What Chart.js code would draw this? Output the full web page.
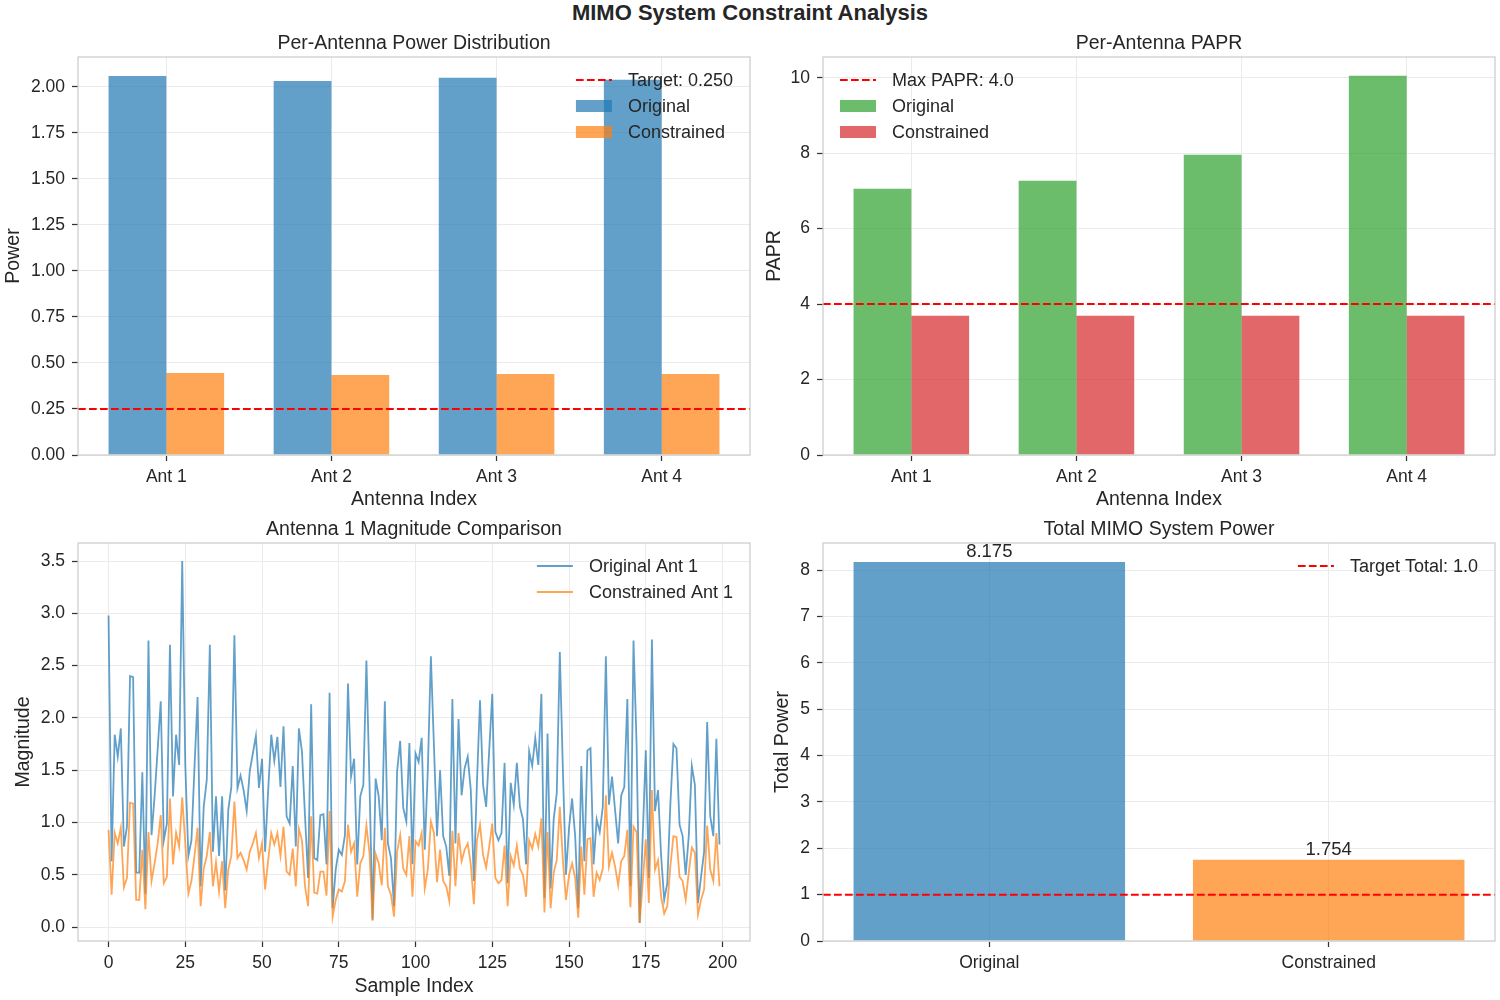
<!DOCTYPE html>
<html>
<head>
<meta charset="utf-8">
<script src="https://cdn.jsdelivr.net/npm/chart.js@4.4.1/dist/chart.umd.min.js"></script>
<style>
  body { margin: 0; background: #fff; width: 1500px; height: 1000px; position: relative; overflow: hidden; }
  #suptitle { position: absolute; left: 0; top: 0; width: 1500px; text-align: center;
    font: bold 22px "Liberation Sans", Arial, sans-serif; line-height: 26px; color: #262626; }
  canvas { position: absolute; }
</style>
</head>
<body>
<div id="suptitle">MIMO System Constraint Analysis</div>
<canvas id="powerChart" width="760" height="495" style="left:0px;top:25px;width:760px;height:495px"></canvas>
<canvas id="paprChart" width="755" height="495" style="left:745px;top:25px;width:755px;height:495px"></canvas>
<canvas id="magChart" width="760" height="489" style="left:0px;top:511px;width:760px;height:489px"></canvas>
<canvas id="totalChart" width="755" height="489" style="left:745px;top:511px;width:755px;height:489px"></canvas>
<script>
// ---- data ----
const antennas = ['Ant 1', 'Ant 2', 'Ant 3', 'Ant 4'];
const powerOriginal = [2.06, 2.033, 2.05, 2.04];
const powerConstrained = [0.446, 0.435, 0.44, 0.44];
const powerTarget = 0.25;
const powerTicks = [0, 0.25, 0.5, 0.75, 1.0, 1.25, 1.5, 1.75, 2.0];

const paprOriginal = [7.06, 7.27, 7.96, 10.05];
const paprConstrained = [3.69, 3.69, 3.69, 3.69];
const paprMax = 4.0;
const paprTicks = [0, 2, 4, 6, 8, 10];

const origAnt1 = [
  2.98,0.63,1.84,1.63,1.90,0.77,0.96,2.40,2.39,0.52,
  0.52,1.48,0.32,2.74,0.88,1.25,1.70,2.16,0.83,0.99,
  2.70,1.25,1.84,1.55,3.50,1.55,0.68,0.83,1.53,2.20,
  0.39,1.15,1.41,2.70,0.72,1.25,0.68,1.25,0.35,1.12,
  1.34,2.79,1.33,1.45,1.31,1.11,1.49,1.66,1.83,1.33,
  1.61,0.72,1.31,1.84,1.59,1.82,1.34,1.92,1.06,0.99,
  1.54,0.77,1.90,1.68,1.06,0.47,2.13,0.66,0.64,1.07,
  1.08,0.60,2.24,0.18,0.55,0.74,0.69,0.88,2.33,1.44,
  1.61,0.60,1.25,1.36,2.55,1.38,0.07,1.42,1.25,0.83,
  2.16,0.80,0.66,0.20,1.49,1.78,1.14,1.01,1.76,0.60,
  1.66,1.58,1.81,0.74,1.50,2.59,1.73,0.87,1.50,0.87,
  0.77,0.49,2.18,0.80,1.99,1.26,1.52,1.63,1.31,0.44,
  1.38,2.17,1.36,1.15,1.69,2.23,0.91,0.83,0.90,1.57,
  0.42,1.38,1.17,1.57,1.15,1.03,0.60,1.68,1.54,1.81,
  1.55,2.23,0.28,1.85,0.37,1.03,1.28,2.63,1.50,0.50,
  0.95,1.23,0.87,0.18,1.54,0.63,1.69,1.71,0.60,1.03,
  0.91,1.15,2.59,1.17,1.44,1.12,0.80,1.26,1.34,2.18,
  0.39,2.74,1.75,0.04,0.87,1.69,0.47,2.75,1.11,1.31,
  0.68,0.26,0.42,1.17,1.75,1.71,0.98,0.87,0.50,0.87,
  1.54,1.36,0.23,0.48,0.72,1.96,1.06,0.87,1.80,0.79
];
const constrAnt1 = [
  0.93,0.31,0.90,0.80,0.95,0.38,0.47,1.19,1.18,0.26,
  0.26,0.74,0.17,0.91,0.44,0.61,0.80,1.07,0.42,0.48,
  1.23,0.60,0.90,0.77,1.24,0.80,0.32,0.44,0.68,0.95,
  0.20,0.56,0.68,0.91,0.39,0.62,0.34,0.63,0.18,0.55,
  0.68,1.20,0.66,0.71,0.64,0.55,0.72,0.80,0.90,0.66,
  0.80,0.36,0.64,0.90,0.79,0.90,0.68,0.96,0.53,0.50,
  0.75,0.39,0.94,0.83,0.39,0.20,1.06,0.33,0.32,0.53,
  0.53,0.30,1.11,0.10,0.26,0.36,0.34,0.44,0.98,0.72,
  0.80,0.29,0.61,0.68,0.97,0.71,0.06,0.70,0.61,0.40,
  0.95,0.39,0.31,0.10,0.72,0.88,0.56,0.50,0.87,0.29,
  0.82,0.78,0.90,0.37,0.55,1.01,0.90,0.43,0.74,0.44,
  0.39,0.25,0.92,0.39,0.90,0.63,0.74,0.80,0.60,0.22,
  0.83,0.98,0.69,0.57,0.77,0.99,0.47,0.42,0.45,0.78,
  0.20,0.68,0.59,0.78,0.56,0.50,0.29,0.83,0.75,0.89,
  0.77,1.04,0.14,0.91,0.18,0.52,0.64,1.15,0.64,0.26,
  0.50,0.61,0.47,0.09,0.77,0.31,0.84,0.85,0.29,0.52,
  0.45,0.56,1.26,0.58,0.71,0.58,0.40,0.63,0.68,0.93,
  0.19,0.96,0.91,0.04,0.42,0.84,0.23,1.31,0.55,0.64,
  0.29,0.13,0.20,0.58,0.87,0.86,0.48,0.44,0.26,0.52,
  0.76,0.71,0.12,0.26,0.36,0.97,0.55,0.44,0.90,0.39
];
const magTicksY = [0, 0.5, 1.0, 1.5, 2.0, 2.5, 3.0, 3.5];
const sampleTicks = [0, 25, 50, 75, 100, 125, 150, 175, 200];

const totalLabels = ['Original', 'Constrained'];
const totalValues = [8.175, 1.754];
const totalTarget = 1.0;
const totalTicks = [0, 1, 2, 3, 4, 5, 6, 7, 8];

// ---- style ----
const FONT = '"Liberation Sans", Arial, sans-serif';
const TEXT = '#262626';
const BLUE = 'rgba(31,119,180,0.7)';
const ORANGE = 'rgba(255,127,14,0.7)';
const GREEN = 'rgba(44,160,44,0.7)';
const RED = 'rgba(214,39,40,0.7)';
const DASH = [7.7, 3.3];

Chart.defaults.font.family = FONT;
Chart.defaults.color = TEXT;
Chart.defaults.animation = false;

// frame around the plot area (matplotlib spines)
const frame = {
  id: 'frame',
  afterDatasetsDraw(chart) {
    const {ctx, chartArea: a} = chart;
    ctx.save();
    ctx.strokeStyle = '#cccccc';
    ctx.lineWidth = 1.25;
    ctx.strokeRect(a.left, a.top, a.right - a.left, a.bottom - a.top);
    ctx.restore();
  }
};

// legend placed inside the plot area
const insideLegend = {
  id: 'insideLegend',
  afterDraw(chart, args, opts) {
    if (!opts || !opts.display) return;
    const {ctx, chartArea} = chart;
    const items = chart.data.datasets
      .map((ds, i) => ({ds, type: chart.getDatasetMeta(i).type}))
      .filter(it => it.ds.label);
    ctx.save();
    ctx.font = '18px ' + FONT;
    const textW = Math.max(...items.map(it => ctx.measureText(it.ds.label).width));
    const boxW = 36, gap = 16, rowH = 26;
    const blockW = boxW + gap + textW;
    const x0 = opts.side === 'left' ? chartArea.left + 17 : chartArea.right - 17 - blockW;
    let y = chartArea.top + 23;
    items.forEach(it => {
      if (it.type === 'line') {
        ctx.strokeStyle = it.ds.borderColor;
        ctx.lineWidth = it.ds.borderWidth;
        ctx.setLineDash(it.ds.borderDash || []);
        ctx.beginPath();
        ctx.moveTo(x0, y);
        ctx.lineTo(x0 + boxW, y);
        ctx.stroke();
        ctx.setLineDash([]);
      } else {
        ctx.fillStyle = it.ds.backgroundColor;
        ctx.fillRect(x0, y - 6, boxW, 12);
      }
      ctx.fillStyle = TEXT;
      ctx.textBaseline = 'middle';
      ctx.textAlign = 'left';
      ctx.fillText(it.ds.label, x0 + boxW + gap, y + 1);
      y += rowH;
    });
    ctx.restore();
  }
};

// value labels above bars
const barValueLabels = {
  id: 'barValueLabels',
  afterDatasetsDraw(chart, args, opts) {
    if (!opts || !opts.display) return;
    const {ctx} = chart;
    ctx.save();
    ctx.font = '18.5px ' + FONT;
    ctx.fillStyle = TEXT;
    ctx.textAlign = 'center';
    ctx.textBaseline = 'bottom';
    chart.data.datasets.forEach((ds, i) => {
      const meta = chart.getDatasetMeta(i);
      if (meta.type !== 'bar') return;
      meta.data.forEach((bar, j) => {
        ctx.fillText(ds.data[j].y.toFixed(3), bar.x, bar.y - 1);
      });
    });
    ctx.restore();
  }
};

function axisX(opts) {
  return {
    type: 'linear',
    min: opts.min, max: opts.max,
    offset: false,
    afterBuildTicks: s => { s.ticks = opts.ticks.map(v => ({value: v})); },
    afterFit: s => { s.height = opts.height; },
    ticks: { font: {size: 17.5}, padding: 6, maxRotation: 0, autoSkip: false, callback: opts.fmt },
    grid: { color: '#ebebeb', lineWidth: 1, offset: false, drawTicks: true, tickLength: 6, tickColor: '#333', tickWidth: 1.25 },
    border: { display: false },
    title: { display: true, text: opts.title, font: {size: 19.5}, padding: {top: opts.tpad, bottom: opts.tpad} }
  };
}
function axisY(opts) {
  return {
    type: 'linear',
    min: opts.min, max: opts.max,
    afterBuildTicks: s => { s.ticks = opts.ticks.map(v => ({value: v})); },
    afterFit: s => { s.width = 78; },
    ticks: { font: {size: 17.5}, padding: 7, autoSkip: false, callback: opts.fmt },
    grid: { color: '#ebebeb', lineWidth: 1, drawTicks: true, tickLength: 6, tickColor: '#333', tickWidth: 1.25 },
    border: { display: false },
    title: { display: true, text: opts.title, font: {size: 19.5}, padding: {top: opts.tpad, bottom: opts.tpad} }
  };
}
function subTitle(text) {
  return { display: true, text, fullSize: false, font: {size: 19.5, weight: 'normal'}, color: TEXT, padding: {top: 7.3, bottom: 1.3} };
}
function hline(label, y, min, max) {
  return { type: 'line', label, data: [{x: min, y}, {x: max, y}], borderColor: '#ff0000', borderWidth: 2,
    borderDash: DASH, pointRadius: 0, fill: false, order: 0 };
}

// ---- Per-antenna power ----
new Chart(document.getElementById('powerChart'), {
  type: 'bar',
  data: {
    datasets: [
      hline('Target: ' + powerTarget.toFixed(3), powerTarget, -0.535, 3.535),
      { label: 'Original', data: powerOriginal.map((v, i) => ({x: i, y: v})), backgroundColor: BLUE,
        categoryPercentage: 0.7, barPercentage: 1.0, order: 1 },
      { label: 'Constrained', data: powerConstrained.map((v, i) => ({x: i, y: v})), backgroundColor: ORANGE,
        categoryPercentage: 0.7, barPercentage: 1.0, order: 1 }
    ]
  },
  options: {
    responsive: false,
    layout: { padding: {right: 10} },
    plugins: { legend: {display: false}, tooltip: {enabled: false}, title: subTitle('Per-Antenna Power Distribution'),
      insideLegend: {display: true, side: 'right'} },
    scales: {
      x: axisX({min: -0.535, max: 3.535, ticks: [0, 1, 2, 3], fmt: v => antennas[v], height: 65, title: 'Antenna Index', tpad: 9}),
      y: axisY({min: 0, max: 2.163, ticks: powerTicks, fmt: v => v.toFixed(2), title: 'Power', tpad: 2})
    }
  },
  plugins: [frame, insideLegend]
});

// ---- Per-antenna PAPR ----
new Chart(document.getElementById('paprChart'), {
  type: 'bar',
  data: {
    datasets: [
      hline('Max PAPR: ' + paprMax.toFixed(1), paprMax, -0.535, 3.535),
      { label: 'Original', data: paprOriginal.map((v, i) => ({x: i, y: v})), backgroundColor: GREEN,
        categoryPercentage: 0.7, barPercentage: 1.0, order: 1 },
      { label: 'Constrained', data: paprConstrained.map((v, i) => ({x: i, y: v})), backgroundColor: RED,
        categoryPercentage: 0.7, barPercentage: 1.0, order: 1 }
    ]
  },
  options: {
    responsive: false,
    layout: { padding: {right: 5} },
    plugins: { legend: {display: false}, tooltip: {enabled: false}, title: subTitle('Per-Antenna PAPR'),
      insideLegend: {display: true, side: 'left'} },
    scales: {
      x: axisX({min: -0.535, max: 3.535, ticks: [0, 1, 2, 3], fmt: v => antennas[v], height: 65, title: 'Antenna Index', tpad: 9}),
      y: axisY({min: 0, max: 10.55, ticks: paprTicks, fmt: v => String(v), title: 'PAPR', tpad: 18})
    }
  },
  plugins: [frame, insideLegend]
});

// ---- Antenna 1 magnitude ----
new Chart(document.getElementById('magChart'), {
  type: 'line',
  data: {
    datasets: [
      { label: 'Original Ant 1', data: origAnt1.map((v, i) => ({x: i, y: v})), borderColor: BLUE,
        backgroundColor: BLUE, borderWidth: 1.8, pointRadius: 0, tension: 0, fill: false, order: 1 },
      { label: 'Constrained Ant 1', data: constrAnt1.map((v, i) => ({x: i, y: v})), borderColor: ORANGE,
        backgroundColor: ORANGE, borderWidth: 1.8, pointRadius: 0, tension: 0, fill: false, order: 0 }
    ]
  },
  options: {
    responsive: false,
    layout: { padding: {right: 10} },
    plugins: { legend: {display: false}, tooltip: {enabled: false}, title: subTitle('Antenna 1 Magnitude Comparison'),
      insideLegend: {display: true, side: 'right'} },
    scales: {
      x: axisX({min: -9.95, max: 208.95, ticks: sampleTicks, fmt: v => String(v), height: 59, title: 'Sample Index', tpad: 2}),
      y: axisY({min: -0.133, max: 3.673, ticks: magTicksY, fmt: v => v.toFixed(1), title: 'Magnitude', tpad: 12})
    }
  },
  plugins: [frame, insideLegend]
});

// ---- Total system power ----
new Chart(document.getElementById('totalChart'), {
  type: 'bar',
  data: {
    datasets: [
      hline('Target Total: ' + totalTarget.toFixed(1), totalTarget, -0.49, 1.49),
      { data: totalValues.map((v, i) => ({x: i, y: v})), backgroundColor: [BLUE, ORANGE],
        categoryPercentage: 1.0, barPercentage: 0.8, order: 1 }
    ]
  },
  options: {
    responsive: false,
    layout: { padding: {right: 5} },
    plugins: { legend: {display: false}, tooltip: {enabled: false}, title: subTitle('Total MIMO System Power'),
      insideLegend: {display: true, side: 'right'}, barValueLabels: {display: true} },
    scales: {
      x: axisX({min: -0.49, max: 1.49, ticks: [0, 1], fmt: v => totalLabels[v], height: 59, title: '', tpad: 2}),
      y: axisY({min: 0, max: 8.584, ticks: totalTicks, fmt: v => String(v), title: 'Total Power', tpad: 26})
    }
  },
  plugins: [frame, insideLegend, barValueLabels]
});
</script>
</body>
</html>
